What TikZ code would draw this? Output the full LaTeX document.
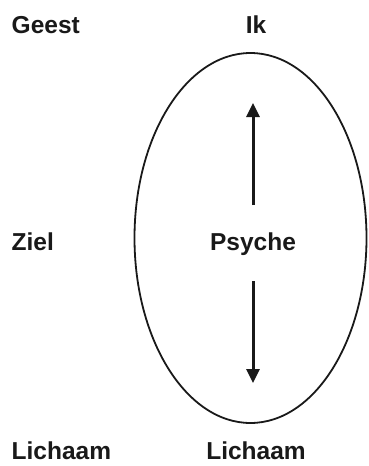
\documentclass[tikz,border=0pt]{standalone}
\usepackage{fontspec}
\setmainfont{Liberation Sans}
\usepackage{tikz}
\usetikzlibrary{shapes.geometric, arrows.meta, positioning, calc}

\begin{document}
\begin{tikzpicture}[
  x=1pt, y=-1pt,
  lbl/.style  = {anchor=base, inner sep=0pt, text=black!90,
                 font=\fontsize{24.5}{28}\selectfont\bfseries},
  side/.style = {lbl, anchor=base west},
  ring/.style = {ellipse, draw=black!90, line width=1.8pt,
                 minimum width=232pt, minimum height=370pt, inner sep=0pt},
  arr/.style  = {-{Triangle[length=14pt, width=13pt]}, line width=3pt, black!90},
]
  \useasboundingbox (0,0) rectangle (369,466);

  \node[ring] (ei) at (250.5,238) {};

  \node[side] (geest)    at (11.5,33)  {Geest};
  \node[lbl]  (ik)       at (256,33)   {Ik};
  \node[side] (ziel)     at (11.5,250.5) {Ziel};
  \node[lbl]  (psyche)   at (253,250.5){Psyche};
  \node[side] (lichaamL) at (11.5,459.5) {Lichaam};
  \node[lbl]  (lichaamR) at (256,459.5) {Lichaam};

  \coordinate (upfrom)   at (253,205);
  \coordinate (upto)     at (253,103);
  \coordinate (downfrom) at (253,281);
  \coordinate (downto)   at (253,383);

  \draw[arr] (upfrom) -- (upto);
  \draw[arr] (downfrom) -- (downto);
\end{tikzpicture}
\end{document}
